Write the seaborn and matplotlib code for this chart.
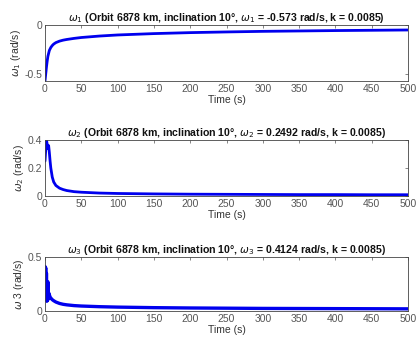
import numpy as np
import pandas as pd
import seaborn as sns
import matplotlib.pyplot as plt

sns.set_theme(style="white")
plt.rcParams['font.family'] = ['Liberation Sans', 'DejaVu Sans']
plt.rcParams['mathtext.fontset'] = 'dejavusans'

t1 = [0, 1, 2, 3, 4, 5, 6, 8, 10, 12, 15, 20, 25, 30, 40, 50, 75, 100, 150, 200, 250, 300, 350, 400, 450, 500]
w1 = [-0.573, -0.50, -0.43, -0.37, -0.32, -0.29, -0.26, -0.23, -0.21, -0.195, -0.18, -0.165, -0.155, -0.148, -0.137, -0.128, -0.113, -0.102, -0.088, -0.078, -0.071, -0.065, -0.061, -0.057, -0.054, -0.051]

t2 = [0, 1, 2, 3, 4, 5, 6, 7, 8, 10, 12, 15, 20, 25, 30, 40, 50, 75, 100, 150, 200, 250, 300, 350, 400, 450, 500]
w2 = [0.2492, 0.33, 0.40, 0.37, 0.34, 0.36, 0.31, 0.25, 0.20, 0.135, 0.10, 0.075, 0.056, 0.046, 0.039, 0.031, 0.027, 0.021, 0.018, 0.015, 0.013, 0.012, 0.011, 0.010, 0.010, 0.009, 0.009]

t3 = [0, 0.5, 1, 1.5, 2, 2.5, 3, 3.5, 4, 4.5, 5, 5.5, 6, 7, 8, 10, 12, 15, 20, 25, 30, 40, 50, 75, 100, 150, 200, 250, 300, 350, 400, 450, 500]
w3 = [0.4124, 0.30, 0.40, 0.12, 0.35, 0.09, 0.22, 0.10, 0.27, 0.11, 0.17, 0.12, 0.15, 0.13, 0.12, 0.105, 0.095, 0.083, 0.07, 0.062, 0.057, 0.050, 0.046, 0.040, 0.036, 0.031, 0.028, 0.026, 0.024, 0.023, 0.022, 0.021, 0.020]

titles = [r"$\omega_1$ (Orbit 6878 km, inclination 10°, $\omega_1$ = -0.573 rad/s, k = 0.0085)",
          r"$\omega_2$ (Orbit 6878 km, inclination 10°, $\omega_2$ = 0.2492 rad/s, k = 0.0085)",
          r"$\omega_3$ (Orbit 6878 km, inclination 10°, $\omega_3$ = 0.4124 rad/s, k = 0.0085)"]
ylabels = [r"$\omega_1$ (rad/s)", r"$\omega_2$ (rad/s)", r"$\omega$ 3 (rad/s)"]
ylims = [(-0.573, 0), (0, 0.4), (0, 0.5)]
yticks = [[-0.5, 0], [0, 0.2, 0.4], [0, 0.5]]
yticklabels = [["-0.5", "0"], ["0", "0.2", "0.4"], ["0", "0.5"]]
xticks = [0, 50, 100, 150, 200, 250, 300, 350, 400, 450, 500]
lws = [2.0, 2.0, 2.4]

fig = plt.figure(figsize=(4.17, 3.40), dpi=100)
W, H = 417, 340
boxes = [(45, 25, 408, 81), (45, 140, 408, 196), (45, 257, 408, 311)]
data = [(t1, w1), (t2, w2), (t3, w3)]
for i, (box, (t, w)) in enumerate(zip(boxes, data)):
    l, tp, r, b = box
    ax = fig.add_axes([l / W, 1 - b / H, (r - l) / W, (b - tp) / H])
    df = pd.DataFrame({"t": t, "w": w})
    sns.lineplot(data=df, x="t", y="w", ax=ax, color="#0000ee", linewidth=lws[i])
    ax.set_xlim(0, 500)
    ax.set_ylim(*ylims[i])
    ax.set_xticks(xticks)
    ax.set_xticklabels([str(x) for x in xticks], fontsize=7.5, color="#555555")
    ax.set_yticks(yticks[i])
    ax.set_yticklabels(yticklabels[i], fontsize=7.5, color="#555555")
    ax.tick_params(direction="in", length=2, width=0.5, top=True, right=True, pad=2, colors="#555555")
    ax.set_xlabel("Time (s)", fontsize=7.5, color="#333333", labelpad=1)
    ax.set_ylabel(ylabels[i], fontsize=7.5, color="#333333", labelpad=1)
    ax.set_title(titles[i], fontsize=7.6, fontweight="bold", pad=3, color="#111111")
    for s in ax.spines.values():
        s.set_linewidth(0.6)
        s.set_color("#444444")

fig.savefig("out.png", dpi=100, facecolor="white")
